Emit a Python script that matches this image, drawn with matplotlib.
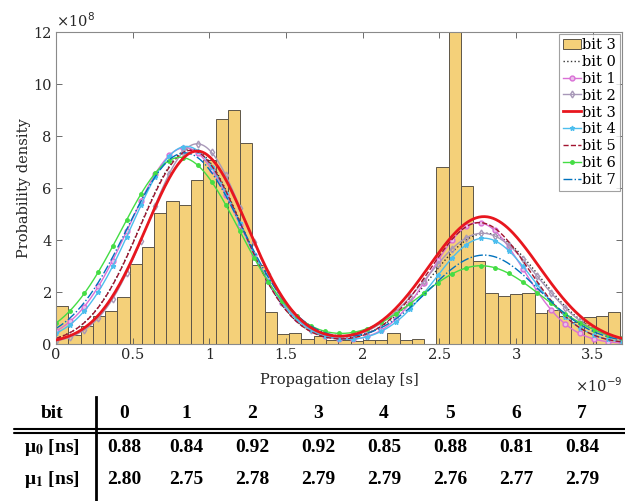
import numpy as np
import matplotlib
matplotlib.use("Agg")
import matplotlib.pyplot as plt

# ---- histogram of measured delays for bit 3 (bin width 0.08 ns, density in 1e8 / s)
bin_width = 0.08
hist_heights = [1.47, 0.35, 0.68, 1.09, 1.27, 1.81, 3.08, 3.73, 5.04, 5.49,
                5.35, 6.31, 7.07, 8.67, 9.01, 7.74, 3.03, 1.23, 0.40, 0.44,
                0.19, 0.29, 0.14, 0.17, 0.10, 0.17, 0.17, 0.42, 0.14, 0.20,
                0.00, 6.81, 18.2, 6.06, 3.19, 1.96, 1.86, 1.91, 1.96, 1.19,
                1.32, 1.06, 0.83, 1.04, 1.09, 1.23]

# ---- two-component Gaussian fits per bit (ns, peak heights in 1e8)
bits = [0, 1, 2, 3, 4, 5, 6, 7]
mu0 = [0.88, 0.84, 0.92, 0.92, 0.85, 0.88, 0.81, 0.84]
mu1 = [2.80, 2.75, 2.78, 2.79, 2.79, 2.76, 2.77, 2.79]
sigma0 = [0.331, 0.360, 0.319, 0.330, 0.352, 0.331, 0.387, 0.375]
sigma1 = [0.354, 0.300, 0.360, 0.360, 0.323, 0.326, 0.400, 0.360]
peak0 = [7.50, 7.55, 7.70, 7.42, 7.60, 7.45, 7.18, 7.35]
peak1 = [4.26, 4.67, 4.26, 4.90, 4.07, 4.67, 3.01, 3.42]

line_styles = [
    dict(color="#333333", ls=":", lw=1.0),
    dict(color="#DA70D6", ls="-", lw=1.0, marker="o", ms=3.5, mfc="#EBC0EB"),
    dict(color="#A898B8", ls="-", lw=1.0, marker="d", ms=3.5, mfc="none"),
    dict(color="#E8161E", ls="-", lw=2.0),
    dict(color="#4DBEEE", ls="-", lw=1.0, marker="*", ms=3.5),
    dict(color="#A2142F", ls="--", lw=1.0),
    dict(color="#44DD44", ls="-", lw=1.0, marker=".", ms=5),
    dict(color="#0072BD", ls="-.", lw=1.0),
]

# ---- table rows
col_header = "bit"
row_labels = [r"μ$_\mathbf{0}$ [ns]", r"μ$_\mathbf{1}$ [ns]"]

W, H = 625, 501
fig = plt.figure(figsize=(W / 100, H / 100), dpi=100)
serif = "DejaVu Serif"
ink = "#262626"

ax = fig.add_axes([56 / W, 1 - 344 / H, (622 - 56) / W, (344 - 32) / H])
edges = np.arange(len(hist_heights)) * bin_width
hist = ax.bar(edges, hist_heights, width=bin_width, align="edge",
              color="#F4D079", edgecolor="#5E5648", linewidth=0.7,
              label="bit 3", zorder=1)

x = np.linspace(0, 3.69, 401)
lines = []
for b in bits:
    y = (peak0[b] * np.exp(-(x - mu0[b]) ** 2 / (2 * sigma0[b] ** 2))
         + peak1[b] * np.exp(-(x - mu1[b]) ** 2 / (2 * sigma1[b] ** 2)))
    kw = dict(line_styles[b])
    if "marker" in kw:
        kw["markevery"] = 10
    ln, = ax.plot(x, y, label=f"bit {b}", zorder=2 + (b == 3), **kw)
    lines.append(ln)

ax.set_xlim(0, 3.69)
ax.set_ylim(0, 12)
ax.set_xticks([0, 0.5, 1, 1.5, 2, 2.5, 3, 3.5])
ax.set_xticklabels(["0", "0.5", "1", "1.5", "2", "2.5", "3", "3.5"])
ax.set_yticks([0, 2, 4, 6, 8, 10, 12])
ax.set_yticklabels(["0", "2", "4", "6", "8", "10", "12"])
ax.tick_params(direction="in", top=True, right=True, length=4, width=0.6,
               color="#555555", labelsize=10.5, pad=3, labelcolor=ink)
for lab in ax.get_xticklabels() + ax.get_yticklabels():
    lab.set_family(serif)
for s in ax.spines.values():
    s.set_color("#8A8A8A")
    s.set_linewidth(0.8)
ax.set_xlabel("Propagation delay [s]", family=serif, fontsize=10.5,
              color=ink, labelpad=8)
ax.set_ylabel("Probability density", family=serif, fontsize=10.5,
              color=ink, labelpad=2)
ax.text(0.0, 1.005, "×10$^{8}$", transform=ax.transAxes, ha="left", va="bottom",
        family=serif, fontsize=10.5, color=ink)
ax.text(1.0, -0.105, "×10$^{-9}$", transform=ax.transAxes, ha="right", va="top",
        family=serif, fontsize=10.5, color=ink)

handles = [hist] + lines
labels = ["bit 3"] + [f"bit {b}" for b in bits]
leg = ax.legend(handles, labels, loc="upper right",
                prop=dict(family=serif, size=10.5),
                frameon=True, fancybox=False, edgecolor="#8A8A8A",
                borderpad=0.25, labelspacing=0.2, handlelength=1.25,
                handletextpad=0.1, borderaxespad=0.15)
leg.get_frame().set_linewidth(0.8)

# ---- parameter table below the plot (pixel-coordinate overlay)
tab = fig.add_axes([0, 0, 1, 1])
tab.set_xlim(0, W)
tab.set_ylim(H, 0)
tab.axis("off")
tfont = dict(family="Liberation Serif", fontweight="bold", fontsize=14,
             ha="center", va="center", color="black", math_fontfamily="stix")
col_x = [124, 186, 252, 318, 384, 450, 516, 582]
tab.text(52, 414, col_header, **tfont)
for cx, b in zip(col_x, bits):
    tab.text(cx, 414, str(b), **tfont)
for ry, lbl, vals in zip([448, 479], row_labels, [mu0, mu1]):
    tab.text(52, ry, lbl, **tfont)
    for cx, v in zip(col_x, vals):
        tab.text(cx, ry, f"{v:.2f}", **tfont)
tab.plot([96, 96], [397, 501], color="black", lw=2)
tab.plot([14, 625], [429, 429], color="black", lw=1.5, solid_capstyle="round")
tab.plot([14, 625], [433, 433], color="black", lw=1.5, solid_capstyle="round")

fig.savefig("out.png", dpi=100)
